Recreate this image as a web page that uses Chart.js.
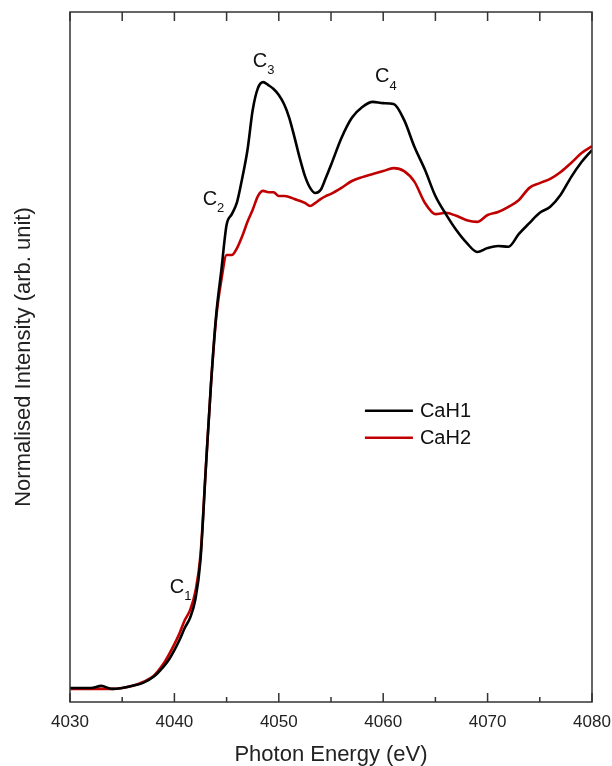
<!DOCTYPE html>
<html>
<head>
<meta charset="utf-8">
<script src="https://cdn.jsdelivr.net/npm/chart.js@4.4.1/dist/chart.umd.min.js"></script>
<style>
  html, body { margin: 0; padding: 0; background: #fff; }
  #wrap { width: 612px; height: 766px; }
</style>
</head>
<body>
<div id="wrap"><canvas id="xasChart" width="612" height="766"></canvas></div>
<script>
// Photon energy (eV)
const energy = [
  4030, 4031, 4032, 4033, 4034, 4035, 4036, 4037, 4038, 4039, 4039.5,
  4040, 4040.5, 4041, 4041.5, 4042, 4042.5, 4043, 4043.5, 4044, 4044.5,
  4045, 4045.5, 4046, 4046.5, 4047, 4047.5, 4048, 4048.5, 4049, 4049.5,
  4050, 4050.5, 4051, 4051.5, 4052, 4052.5, 4053, 4053.5, 4054, 4054.5,
  4055, 4056, 4057, 4058, 4059, 4060, 4061, 4062, 4063, 4064,
  4065, 4066, 4067, 4068, 4069, 4070, 4071, 4072, 4073, 4074,
  4075, 4076, 4077, 4078, 4079, 4080
];

// Normalised intensity (arb. unit)
const cah1 = [
  0.000, 0.000, 0.000, 0.005, -0.002, 0.000, 0.005, 0.012, 0.026, 0.051, 0.067,
  0.088, 0.112, 0.140, 0.163, 0.205, 0.298, 0.507, 0.705, 0.867, 0.972,
  1.077, 1.102, 1.130, 1.186, 1.251, 1.344, 1.395, 1.409, 1.402, 1.393,
  1.379, 1.358, 1.326, 1.281, 1.233, 1.191, 1.163, 1.151, 1.158, 1.186,
  1.216, 1.279, 1.326, 1.351, 1.363, 1.360, 1.358, 1.321, 1.258, 1.205,
  1.144, 1.102, 1.065, 1.035, 1.014, 1.023, 1.028, 1.026, 1.056, 1.081,
  1.105, 1.119, 1.147, 1.188, 1.223, 1.251
];

const cah2 = [
  -0.002, -0.002, -0.002, -0.002, -0.002, 0.000, 0.005, 0.014, 0.028, 0.058, 0.079,
  0.102, 0.128, 0.158, 0.181, 0.223, 0.309, 0.507, 0.705, 0.860, 0.949,
  1.007, 1.007, 1.023, 1.051, 1.084, 1.112, 1.144, 1.156, 1.153, 1.153,
  1.144, 1.144, 1.142, 1.137, 1.133, 1.128, 1.121, 1.128, 1.137, 1.144,
  1.149, 1.163, 1.179, 1.188, 1.195, 1.202, 1.209, 1.202, 1.177, 1.128,
  1.102, 1.105, 1.098, 1.088, 1.084, 1.100, 1.107, 1.119, 1.135, 1.163,
  1.174, 1.184, 1.200, 1.221, 1.244, 1.260
];

// feature labels C1..C4 (placed in data coordinates)
const peakSubs = ["1", "2", "3", "4"];
const peakE = [4040.25, 4043.4, 4048.2, 4059.9];
const peakI = [0.233, 1.135, 1.456, 1.421];

const xTicks = [4030, 4040, 4050, 4060, 4070, 4080];

const FONT = "'Liberation Sans', Arial, sans-serif";

// frame + inward ticks on bottom and top
const framePlugin = {
  id: "frame",
  afterDraw(chart) {
    const { ctx, chartArea: a, scales } = chart;
    const x = scales.x;
    ctx.save();
    ctx.strokeStyle = "#333";
    ctx.lineWidth = 1.5;
    ctx.strokeRect(a.left, a.top, a.right - a.left, a.bottom - a.top);
    for (let e = x.min; e <= x.max; e += 5) {
      const px = x.getPixelForValue(e);
      const major = xTicks.includes(e);
      ctx.beginPath();
      ctx.moveTo(px, a.bottom);
      ctx.lineTo(px, a.bottom - (major ? 9 : 5));
      ctx.moveTo(px, a.top);
      ctx.lineTo(px, a.top + 9);
      ctx.stroke();
    }
    ctx.restore();
  }
};

// C labels with subscripts
const labelPlugin = {
  id: "peakLabels",
  afterDatasetsDraw(chart) {
    const { ctx, scales } = chart;
    ctx.save();
    ctx.fillStyle = "#111";
    ctx.textBaseline = "middle";
    for (let i = 0; i < peakSubs.length; i++) {
      const px = scales.x.getPixelForValue(peakE[i]);
      const py = scales.y.getPixelForValue(peakI[i]);
      ctx.font = "20px " + FONT;
      ctx.textAlign = "center";
      ctx.fillText("C", px, py);
      const w = ctx.measureText("C").width;
      ctx.font = "13px " + FONT;
      ctx.textAlign = "left";
      ctx.fillText(peakSubs[i], px + w / 2, py + 9);
    }
    ctx.restore();
  }
};

// legend drawn inside the plot
const legendPlugin = {
  id: "innerLegend",
  afterDraw(chart) {
    const { ctx, chartArea: a } = chart;
    const x0 = a.left + 0.565 * (a.right - a.left);
    let y = a.top + 0.578 * (a.bottom - a.top);
    ctx.save();
    ctx.font = "20px " + FONT;
    ctx.textBaseline = "middle";
    ctx.fillStyle = "#111";
    chart.data.datasets.forEach(ds => {
      ctx.strokeStyle = ds.borderColor;
      ctx.lineWidth = 2.5;
      ctx.beginPath();
      ctx.moveTo(x0, y);
      ctx.lineTo(x0 + 48, y);
      ctx.stroke();
      ctx.fillText(ds.label, x0 + 55, y + 1);
      y += 27;
    });
    ctx.restore();
  }
};

function toPoints(ys) {
  return energy.map((e, i) => ({ x: e, y: ys[i] }));
}

new Chart(document.getElementById("xasChart").getContext("2d"), {
  type: "line",
  data: {
    datasets: [
      {
        label: "CaH1",
        data: toPoints(cah1),
        borderColor: "#000000",
        borderWidth: 2.6,
        pointRadius: 0,
        cubicInterpolationMode: "monotone",
        fill: false
      },
      {
        label: "CaH2",
        data: toPoints(cah2),
        borderColor: "#c00000",
        borderWidth: 2.6,
        pointRadius: 0,
        cubicInterpolationMode: "monotone",
        fill: false
      }
    ]
  },
  options: {
    responsive: false,
    animation: false,
    layout: { padding: { top: 12, right: 20, left: 0, bottom: 0 } },
    plugins: { legend: { display: false }, tooltip: { enabled: false } },
    scales: {
      x: {
        type: "linear",
        min: 4030,
        max: 4080,
        grid: { display: false, drawTicks: false },
        border: { display: false },
        afterBuildTicks(scale) {
          scale.ticks = xTicks.map(v => ({ value: v }));
        },
        afterFit(scale) {
          scale.height = 64;
          scale.paddingLeft = 0;
          scale.paddingRight = 0;
        },
        ticks: {
          padding: 10,
          color: "#222",
          font: { family: FONT, size: 17 },
          maxRotation: 0,
          callback: v => String(v)
        },
        title: {
          display: true,
          text: "Photon Energy (eV)",
          color: "#222",
          font: { family: FONT, size: 22, lineHeight: 1 },
          padding: { top: 0, bottom: 0 }
        }
      },
      y: {
        min: -0.0326,
        max: 1.572,
        grid: { display: false, drawTicks: false },
        border: { display: false },
        ticks: { display: false },
        afterFit(scale) { scale.width = 70; },
        title: {
          display: true,
          text: "Normalised Intensity (arb. unit)",
          color: "#222",
          font: { family: FONT, size: 22, lineHeight: 1 },
          padding: { top: 13, bottom: 0 }
        }
      }
    }
  },
  plugins: [framePlugin, labelPlugin, legendPlugin]
});
</script>
</body>
</html>
